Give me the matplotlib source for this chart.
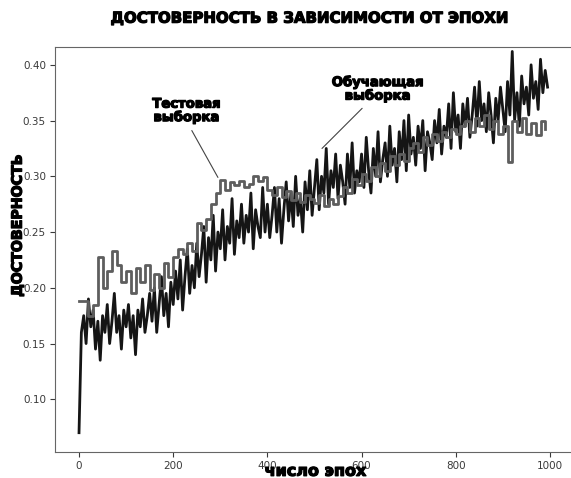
import matplotlib
matplotlib.use("Agg")
from matplotlib import pyplot as plt
import matplotlib.patheffects as pe
import numpy as np

# training accuracy, read every 5 epochs
train_epochs = np.arange(0, 1000, 5)
train_acc = [
    0.070, 0.160, 0.175, 0.150, 0.190, 0.165, 0.180, 0.145, 0.170, 0.135,
    0.175, 0.160, 0.185, 0.150, 0.170, 0.195, 0.160, 0.175, 0.145, 0.180,
    0.165, 0.185, 0.155, 0.175, 0.140, 0.180, 0.165, 0.190, 0.160, 0.175,
    0.195, 0.170, 0.200, 0.160, 0.185, 0.210, 0.175, 0.195, 0.165, 0.205,
    0.185, 0.215, 0.190, 0.225, 0.180, 0.210, 0.235, 0.195, 0.220, 0.200,
    0.240, 0.210, 0.230, 0.255, 0.205, 0.245, 0.225, 0.265, 0.215, 0.250,
    0.235, 0.270, 0.225, 0.255, 0.240, 0.280, 0.230, 0.260, 0.245, 0.275,
    0.240, 0.265, 0.250, 0.285, 0.235, 0.270, 0.255, 0.245, 0.290, 0.250,
    0.275, 0.245, 0.265, 0.290, 0.250, 0.280, 0.240, 0.270, 0.295, 0.260,
    0.285, 0.255, 0.300, 0.265, 0.280, 0.250, 0.295, 0.270, 0.305, 0.265,
    0.290, 0.315, 0.270, 0.300, 0.285, 0.325, 0.275, 0.305, 0.290, 0.320,
    0.280, 0.310, 0.295, 0.275, 0.320, 0.290, 0.330, 0.285, 0.305, 0.295,
    0.320, 0.290, 0.335, 0.305, 0.285, 0.325, 0.300, 0.340, 0.295, 0.315,
    0.330, 0.300, 0.345, 0.310, 0.325, 0.295, 0.340, 0.315, 0.350, 0.305,
    0.355, 0.320, 0.335, 0.310, 0.345, 0.325, 0.350, 0.305, 0.340, 0.330,
    0.315, 0.350, 0.330, 0.360, 0.320, 0.345, 0.335, 0.365, 0.325, 0.375,
    0.340, 0.355, 0.325, 0.365, 0.345, 0.370, 0.335, 0.355, 0.380, 0.345,
    0.385, 0.350, 0.365, 0.340, 0.375, 0.355, 0.330, 0.370, 0.350, 0.380,
    0.360, 0.340, 0.385, 0.355, 0.412, 0.350, 0.375, 0.345, 0.390, 0.365,
    0.380, 0.355, 0.400, 0.370, 0.385, 0.360, 0.405, 0.375, 0.395, 0.380,
]

# test accuracy, read every 10 epochs
test_epochs = np.arange(0, 1000, 10)
test_acc = [
    0.188, 0.188, 0.175, 0.185, 0.228, 0.200, 0.215, 0.233, 0.220, 0.205,
    0.215, 0.195, 0.218, 0.205, 0.220, 0.198, 0.212, 0.200, 0.222, 0.210,
    0.228, 0.235, 0.230, 0.240, 0.233, 0.258, 0.252, 0.262, 0.275, 0.285,
    0.297, 0.288, 0.295, 0.292, 0.296, 0.290, 0.293, 0.300, 0.296, 0.299,
    0.288, 0.283, 0.290, 0.281, 0.287, 0.279, 0.285, 0.277, 0.283, 0.280,
    0.276, 0.283, 0.273, 0.280, 0.275, 0.282, 0.290, 0.285, 0.298, 0.292,
    0.302, 0.296, 0.308, 0.300, 0.312, 0.305, 0.318, 0.310, 0.320, 0.314,
    0.325, 0.330, 0.322, 0.335, 0.328, 0.338, 0.332, 0.340, 0.335, 0.342,
    0.338, 0.345, 0.350, 0.340, 0.352, 0.345, 0.355, 0.342, 0.350, 0.338,
    0.345, 0.313, 0.350, 0.340, 0.352, 0.338, 0.348, 0.337, 0.350, 0.342,
]

# heavy look: DejaVu bold with a thin stroke around the glyphs
heavy = dict(family="DejaVu Sans", fontweight="bold",
             path_effects=[pe.withStroke(linewidth=0.9, foreground="black")])

fig = plt.figure(figsize=(5.71, 4.78), dpi=100)
ax = fig.add_axes([55 / 571, 26 / 478, 518 / 571, 405 / 478])

ax.plot(train_epochs, train_acc, color="#151515", linewidth=2.0)
ax.plot(test_epochs, test_acc, color="#5e5e5e", linewidth=2.0, drawstyle="steps-post")

ax.set_xlim(-51, 1049)
ax.set_ylim(0.0527, 0.416)
ax.set_xticks([0, 200, 400, 600, 800, 1000])
ax.set_yticks([0.10, 0.15, 0.20, 0.25, 0.30, 0.35, 0.40])
ax.set_yticklabels([f"{v:.2f}" for v in ax.get_yticks()])
ax.tick_params(labelsize=7.5, colors="#3a3a3a", length=3.5, width=0.8, pad=3)
for side in ["left", "bottom", "top"]:
    ax.spines[side].set_color("#666666")
ax.spines["right"].set_visible(False)

fig.text(0.543, 0.962, "ДОСТОВЕРНОСТЬ В ЗАВИСИМОСТИ ОТ ЭПОХИ", ha="center", va="center", fontsize=10.8, **heavy)
fig.text(0.031, 0.528, "ДОСТОВЕРНОСТЬ", rotation=90, ha="center", va="center", fontsize=10.2, **heavy)
fig.text(0.553, 0.014, "число эпох", ha="center", va="center", fontsize=11.5, **heavy)

ax.annotate("Тестовая\nвыборка", xy=(295, 0.299), xytext=(229, 0.3587),
            ha="center", va="center", fontsize=9.5, linespacing=1.05,
            arrowprops=dict(arrowstyle="-", color="#444444", linewidth=0.8,
                            relpos=(0.52, 0.0), shrinkA=3, shrinkB=0), **heavy)
ax.annotate("Обучающая\nвыборка", xy=(516, 0.325), xytext=(635, 0.378),
            ha="center", va="center", fontsize=9.5, linespacing=1.05,
            arrowprops=dict(arrowstyle="-", color="#444444", linewidth=0.8,
                            relpos=(0.39, 0.0), shrinkA=3, shrinkB=0), **heavy)

fig.savefig("out.png", dpi=100)
